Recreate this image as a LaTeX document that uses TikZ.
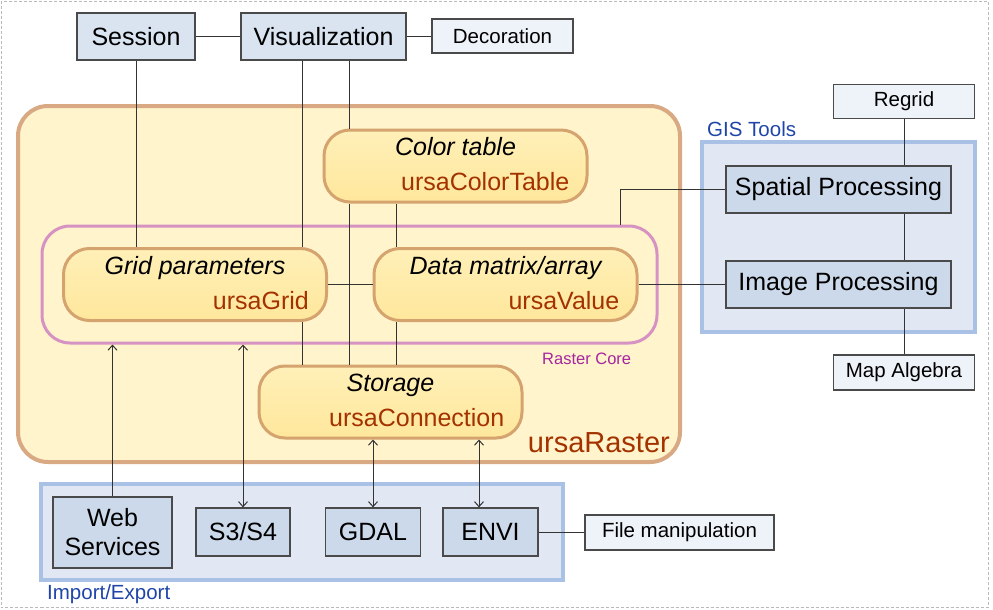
\documentclass[tikz,border=0pt]{standalone}
\usepackage{fontspec}
\setmainfont{Liberation Sans}
\usetikzlibrary{positioning,arrows.meta,calc}
\definecolor{boxline}{HTML}{4A4A4A}
\definecolor{boxblue}{HTML}{CCD9EA}
\definecolor{toplight}{HTML}{DAE4F1}
\definecolor{boxpale}{HTML}{EEF2F9}
\definecolor{groupfill}{HTML}{E1E7F3}
\definecolor{groupline}{HTML}{A9C1E4}
\definecolor{grouptext}{HTML}{1F45A8}
\definecolor{rasterfill}{HTML}{FFF4CC}
\definecolor{rasterline}{HTML}{D8A983}
\definecolor{coreline}{HTML}{D692C3}
\definecolor{coretext}{HTML}{A526A0}
\definecolor{classtop}{HTML}{FFF0B8}
\definecolor{classbot}{HTML}{FFE79C}
\definecolor{classline}{HTML}{D5A36E}
\definecolor{classtext}{HTML}{A33200}
\definecolor{linkgray}{HTML}{333333}
% class node: name, centre, title, class name
\newcommand{\ursaclass}[4]{
  \node[classbox] (#1) at (#2) {};
  \node[classtitle, anchor=base] (#1-title) at ([yshift=-27pt]#1.north) {#3};
  \node[classname, anchor=base east] (#1-class) at ([xshift=-19pt,yshift=-62pt]#1.north east) {#4};
}

\begin{document}
\begin{tikzpicture}[x=1pt,y=-1pt,
  box/.style={draw=boxline, line width=1.3pt, fill=boxblue, inner sep=0pt, align=center, font=\fontsize{25}{29}\selectfont},
  topbox/.style={box, fill=toplight, minimum height=47pt},
  toolbox/.style={box, minimum width=225pt, minimum height=47pt},
  iobox/.style={box, minimum width=95pt, minimum height=48pt},
  palebox/.style={box, fill=boxpale, minimum width=141pt, minimum height=34pt, font=\fontsize{20.5}{24}\selectfont},
  group/.style={draw=groupline, line width=4pt, fill=groupfill, inner sep=0pt},
  grouplabel/.style={text=grouptext, font=\fontsize{20.5}{24}\selectfont, inner sep=0pt},
  classbox/.style={draw=classline, line width=3pt, top color=classtop, bottom color=classbot, rounded corners=26pt, minimum width=263pt, minimum height=72pt, inner sep=0pt},
  classtitle/.style={font=\itshape\fontsize{25}{29}\selectfont, inner sep=0pt},
  classname/.style={text=classtext, font=\fontsize{25}{29}\selectfont, inner sep=0pt},
  link/.style={draw=linkgray, line width=1pt},
  arr/.style={link, -{Straight Barb[length=5pt,width=9pt]}},
  io/.style={link, {Straight Barb[length=5pt,width=9pt]}-{Straight Barb[length=5pt,width=9pt]}},
  ]
\useasboundingbox (0,0) rectangle (993,610);
\draw[draw=gray!55, line width=0.8pt, dash pattern=on 3pt off 2pt] (1.5,1.5) rectangle (988,607.5);

% raster package and its core
\node[draw=rasterline, line width=4pt, fill=rasterfill, rounded corners=30pt, minimum width=662pt, minimum height=356pt, inner sep=0pt] (raster) at (349,284) {};
\node[draw=coreline, line width=3pt, rounded corners=28pt, minimum width=615pt, minimum height=117pt, inner sep=0pt] (core) at (349.5,284.5) {};
\node[anchor=base east, text=classtext, font=\fontsize{29}{34}\selectfont, inner sep=0pt] (raster-label) at (670,452) {ursaRaster};
\node[anchor=base west, text=coretext, font=\fontsize{16.5}{20}\selectfont, inner sep=0pt] (core-label) at (542,364) {Raster Core};

\ursaclass{colortab}{455.5,166}{Color table}{ursaColorTable}
\ursaclass{grid}{195,284.5}{Grid parameters}{ursaGrid}
\ursaclass{datamat}{505.5,284.5}{Data matrix/array}{ursaValue}
\ursaclass{storage}{390.5,402}{Storage}{ursaConnection}

% top row
\node[topbox, minimum width=118pt] (session) at (136,36.5) {Session};
\node[topbox, minimum width=165pt] (visual) at (323.5,36.5) {Visualization};
\node[palebox] (decoration) at (502.5,36) {Decoration};

% GIS tools
\node[group, minimum width=273pt, minimum height=190pt] (gis) at (838.5,237) {};
\node[grouplabel, anchor=base west] (gis-label) at (707,136) {GIS Tools};
\node[palebox] (regrid) at (904,101.5) {Regrid};
\node[toolbox] (spatial) at (838.5,189.5) {Spatial Processing};
\node[toolbox] (image) at (838.5,284.5) {Image Processing};
\node[palebox, minimum height=35pt] (mapalg) at (904,372.5) {Map Algebra};

% import/export
\node[group, minimum width=522pt, minimum height=96pt] (impexp) at (302,532) {};
\node[grouplabel, anchor=base west] (impexp-label) at (47,599) {Import/Export};
\node[box, minimum width=119pt, minimum height=71pt] (web) at (112.5,532.5) {Web\\Services};
\node[iobox, minimum width=94pt] (s3) at (243,532) {S3/S4};
\node[iobox] (gdal) at (373,532) {GDAL};
\node[iobox] (envi) at (490.5,532) {ENVI};
\node[palebox, minimum width=189pt, minimum height=35pt] (filemanip) at (679.5,532.5) {File manipulation};

% x positions of the vertical links
\coordinate (vline1) at (302,0);
\coordinate (vline2) at (349,0);
\coordinate (vline3) at (396,0);
\coordinate (gisturn) at (620,0);
\coordinate (envix) at (479,0);

\draw[link] (session.east) -- (visual.west);
\draw[link] (visual.east) -- (visual.east -| decoration.west);
\draw[link] (session.south) -- (session.south |- grid.north);
\draw[link] (vline1 |- visual.south) -- (vline1 |- grid.north);
\draw[link] (vline1 |- grid.south) -- (vline1 |- storage.north);
\draw[link] (vline2 |- visual.south) -- (vline2 |- colortab.north);
\draw[link] (vline2 |- colortab.south) -- (vline2 |- storage.north);
\draw[link] (vline3 |- colortab.south) -- (vline3 |- datamat.north);
\draw[link] (vline3 |- datamat.south) -- (vline3 |- storage.north);
\draw[link] (grid.east) -- (datamat.west);
\draw[link] (datamat.east) -- (image.west);
\draw[link] (spatial.west) -- (gisturn |- spatial.west) -- (gisturn |- core.north);
\draw[link] (regrid.south) -- (regrid.south |- spatial.north);
\draw[link] (regrid.south |- spatial.south) -- (regrid.south |- image.north);
\draw[link] (regrid.south |- image.south) -- (mapalg.north);

\draw[arr] (web.north) -- (web.north |- core.south);
\draw[io] (s3.north) -- (s3.north |- core.south);
\draw[io] (gdal.north) -- (gdal.north |- storage.south);
\draw[io] (envix |- envi.north) -- (envix |- storage.south);
\draw[link] (envi.east) -- (envi.east -| filemanip.west);
\end{tikzpicture}
\end{document}
